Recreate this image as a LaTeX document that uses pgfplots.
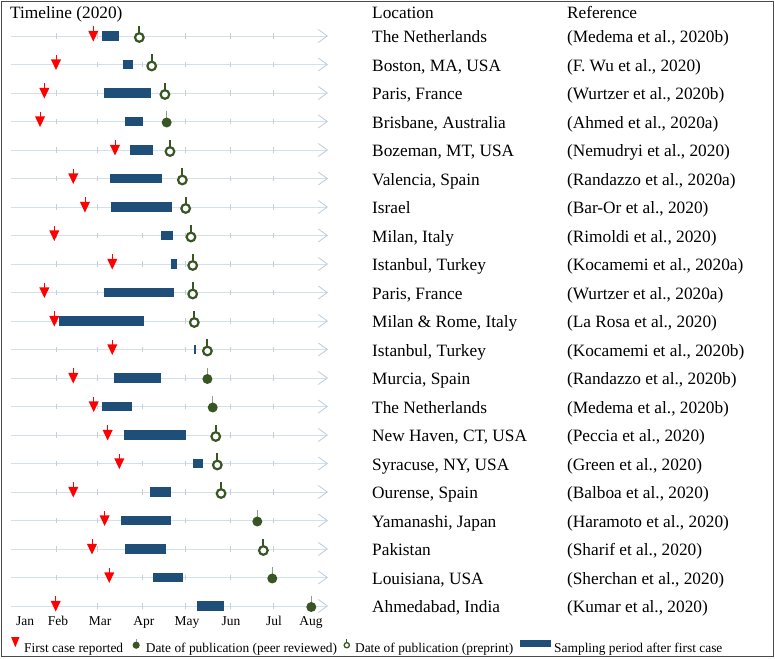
\documentclass[border=0pt]{standalone}
\usepackage{pgfplots}
\pgfplotsset{compat=1.18}
\usepackage{pgfplotstable}
\usepackage{fontspec}
\setmainfont{Liberation Serif}
\usetikzlibrary{arrows.meta}

\definecolor{barblue}{HTML}{1F4E79}
\definecolor{pubgreen}{HTML}{375623}
\definecolor{stemgreen}{HTML}{8E9C86}
\definecolor{linecol}{HTML}{D2E0EC}
\definecolor{arrowcol}{HTML}{B9CCDD}
\definecolor{tickcol}{HTML}{C3CFDA}
\definecolor{bordercol}{HTML}{4A4A4A}

% first case: down-pointing triangle with a short stem
\pgfdeclareplotmark{firstcase}{%
  \pgfsetlinewidth{0.8pt}%
  \pgfpathmoveto{\pgfpoint{0pt}{4pt}}%
  \pgfpathlineto{\pgfpoint{0pt}{9.5pt}}%
  \pgfusepathqstroke
  \pgfpathmoveto{\pgfpoint{-5pt}{5pt}}%
  \pgfpathlineto{\pgfpoint{5pt}{5pt}}%
  \pgfpathlineto{\pgfpoint{0pt}{-5.5pt}}%
  \pgfpathclose
  \pgfusepathqfill
}
% publication, preprint: open ring with stem
\pgfdeclareplotmark{pubopen}{%
  \pgfsetlinewidth{1.8pt}%
  \pgfpathmoveto{\pgfpoint{0pt}{2pt}}%
  \pgfpathlineto{\pgfpoint{0pt}{10pt}}%
  \pgfusepathqstroke
  \pgfsetlinewidth{2.2pt}%
  \pgfpathcircle{\pgfpoint{0pt}{-1.5pt}}{4.3pt}%
  \pgfusepathqfillstroke
}
% publication, peer reviewed: filled dot with thin stem
\pgfdeclareplotmark{pubfill}{%
  \pgfsetlinewidth{0.9pt}%
  \pgfpathmoveto{\pgfpoint{0pt}{3pt}}%
  \pgfpathlineto{\pgfpoint{0pt}{10pt}}%
  \pgfusepathqstroke
  \pgfpathcircle{\pgfpoint{0pt}{-1pt}}{5pt}%
  \pgfusepathqfill
}

% day of year 2020 (Jan 1 = 0)
\pgfplotstableread{
row first bs    be    popen pfill
1   56.9  63.2  75.0  88.9  nan
2   31.0  77.3  84.3  97.5  nan
3   22.9  64.1  97.2  106.7 nan
4   19.9  79.2  91.2  nan   107.9
5   72.0  82.2  98.4  110.2 nan
6   43.0  68.3  104.4 118.8 nan
7   51.1  69.2  111.4 121.1 nan
8   29.8  104.2 112.3 124.8 nan
9   70.1  111.1 115.1 126.0 nan
10  22.9  64.1  113.2 126.0 nan
11  29.8  33.1  92.1  127.1 nan
12  70.1  127.1 128.3 136.2 nan
13  43.0  71.1  104.2 nan   136.2
14  57.2  62.9  84.0  nan   139.9
15  66.9  78.2  121.1 142.0 nan
16  75.0  126.4 133.1 143.1 nan
17  43.0  96.3  111.1 145.7 nan
18  64.8  76.2  111.1 nan   170.9
19  56.0  79.2  107.2 175.1 nan
20  68.0  98.2  119.2 nan   181.3
21  30.8  129.0 148.0 nan   208.4
}\data

\begin{document}
\begin{tikzpicture}[font=\fontsize{17.3}{20}\selectfont]
\begin{axis}[
  scale only axis, width=775pt, height=658pt,
  xmin=-7.92, xmax=530.65, ymin=-0.263, ymax=22.825, y dir=reverse,
  enlargelimits=false, hide axis, clip=false,
  legend columns=4,
  legend style={draw=none, fill=none, inner sep=0pt, column sep=0pt,
    at={(axis cs:-0.28,22.07)}, anchor=north west,
    font=\fontsize{13.4}{16}\selectfont,
    nodes={inner sep=0pt, text depth=0pt},
    cells={anchor=base west}},
]
\path (rel axis cs:0,0) rectangle (rel axis cs:1,1);
\draw[bordercol, line width=1.3pt] (axis cs:-6.88,-0.211) rectangle (axis cs:529.6,22.772);

% timelines with open arrow heads
\addplot[forget plot, linecol, line width=0.9pt, quiver={u=220, v=0},
  -{Straight Barb[length=9pt, width=13pt, line width=0.8pt, color=arrowcol]}]
  table[x expr=0, y=row] {\data};
% month ticks on each timeline (drawn as short vertical error bars, under the bars)
\pgfplotsinvokeforeach{1,...,21}{
  \addplot[forget plot, draw=none, mark=none,
    error bars/.cd, y dir=both, y fixed=0.105, error mark=none,
    error bar style={draw=tickcol, line width=0.8pt, solid}]
    coordinates {(31,#1) (60,#1) (91,#1) (121,#1) (152,#1) (182,#1)};
}
% sampling periods: one segment from start to end
\addplot[forget plot, draw=none, mark=none,
  error bars/.cd, x dir=plus, x explicit, error mark=none,
  error bar style={line width=9.5pt, draw=barblue, solid}]
  table[x=bs, y=row, x error expr={\thisrow{be}-\thisrow{bs}}] {\data};
% first case
\addplot[forget plot, only marks, mark=firstcase, mark options={draw=red, fill=red}]
  table[x=first, y=row] {\data};
% publications
\addplot[forget plot, only marks, mark=pubopen, mark options={draw=pubgreen, fill=white}]
  table[x=popen, y=row] {\data};
\addplot[forget plot, only marks, mark=pubfill, mark options={draw=stemgreen, fill=pubgreen}]
  table[x=pfill, y=row] {\data};

% legend
\addlegendimage{legend image code/.code={%
  \path[draw=none, fill=none] (0pt,-4pt) rectangle (13pt,16pt);
  \fill[red, draw=none] (0pt,15.5pt) -- (8.3pt,15.5pt) -- (4.15pt,5.5pt) -- cycle;}}
\addlegendentry{First case reported}
\addlegendimage{legend image code/.code={%
  \path[draw=none, fill=none] (0pt,-4pt) rectangle (22.7pt,16pt);
  \draw[stemgreen, line width=0.7pt, fill=none] (13pt,10pt) -- (13pt,13.5pt);
  \fill[pubgreen, draw=none] (13pt,7.5pt) circle (3.6pt);}}
\addlegendentry{Date of publication (peer reviewed)}
\addlegendimage{legend image code/.code={%
  \path[draw=none, fill=none] (0pt,-4pt) rectangle (18pt,16pt);
  \draw[pubgreen, line width=1.2pt, fill=none] (9.7pt,10pt) -- (9.7pt,14pt);
  \draw[pubgreen, line width=1.3pt, fill=white] (9.7pt,7.5pt) circle (2.6pt);}}
\addlegendentry{Date of publication (preprint)}
\addlegendimage{legend image code/.code={%
  \path[draw=none, fill=none] (0pt,-4pt) rectangle (41pt,16pt);
  \fill[barblue, draw=none] (7pt,5.5pt) rectangle (38pt,13pt);}}
\addlegendentry{Sampling period after first case}

% headers
\node[anchor=base west, inner sep=0pt] at (axis cs:-0.97,0.386) {Timeline (2020)};
\node[anchor=base west, inner sep=0pt] at (axis cs:250.6,0.386) {Location};
\node[anchor=base west, inner sep=0pt] at (axis cs:386.0,0.386) {Reference};

% month labels
\begin{scope}[every node/.style={anchor=base, inner sep=0pt, font=\fontsize{13.5}{16}\selectfont}]
\node at (axis cs:9.5,21.667) {Jan};
\node at (axis cs:32.4,21.667) {Feb};
\node at (axis cs:61.6,21.667) {Mar};
\node at (axis cs:92.1,21.667) {Apr};
\node at (axis cs:122.0,21.667) {May};
\node at (axis cs:152.6,21.667) {Jun};
\node at (axis cs:182.5,21.667) {Jul};
\node at (axis cs:208.2,21.667) {Aug};
\end{scope}

% locations and references
\begin{scope}[every node/.style={anchor=base west, inner sep=0pt}]
\node at (axis cs:250.6,1.23) {The Netherlands};
\node at (axis cs:386.0,1.23) {(Medema et al., 2020b)};
\node at (axis cs:250.6,2.23) {Boston, MA, USA};
\node at (axis cs:386.0,2.23) {(F. Wu et al., 2020)};
\node at (axis cs:250.6,3.23) {Paris, France};
\node at (axis cs:386.0,3.23) {(Wurtzer et al., 2020b)};
\node at (axis cs:250.6,4.23) {Brisbane, Australia};
\node at (axis cs:386.0,4.23) {(Ahmed et al., 2020a)};
\node at (axis cs:250.6,5.23) {Bozeman, MT, USA};
\node at (axis cs:386.0,5.23) {(Nemudryi et al., 2020)};
\node at (axis cs:250.6,6.23) {Valencia, Spain};
\node at (axis cs:386.0,6.23) {(Randazzo et al., 2020a)};
\node at (axis cs:250.6,7.23) {Israel};
\node at (axis cs:386.0,7.23) {(Bar-Or et al., 2020)};
\node at (axis cs:250.6,8.23) {Milan, Italy};
\node at (axis cs:386.0,8.23) {(Rimoldi et al., 2020)};
\node at (axis cs:250.6,9.23) {Istanbul, Turkey};
\node at (axis cs:386.0,9.23) {(Kocamemi et al., 2020a)};
\node at (axis cs:250.6,10.23) {Paris, France};
\node at (axis cs:386.0,10.23) {(Wurtzer et al., 2020a)};
\node at (axis cs:250.6,11.23) {Milan \& Rome, Italy};
\node at (axis cs:386.0,11.23) {(La Rosa et al., 2020)};
\node at (axis cs:250.6,12.23) {Istanbul, Turkey};
\node at (axis cs:386.0,12.23) {(Kocamemi et al., 2020b)};
\node at (axis cs:250.6,13.23) {Murcia, Spain};
\node at (axis cs:386.0,13.23) {(Randazzo et al., 2020b)};
\node at (axis cs:250.6,14.23) {The Netherlands};
\node at (axis cs:386.0,14.23) {(Medema et al., 2020b)};
\node at (axis cs:250.6,15.23) {New Haven, CT, USA};
\node at (axis cs:386.0,15.23) {(Peccia et al., 2020)};
\node at (axis cs:250.6,16.23) {Syracuse, NY, USA};
\node at (axis cs:386.0,16.23) {(Green et al., 2020)};
\node at (axis cs:250.6,17.23) {Ourense, Spain};
\node at (axis cs:386.0,17.23) {(Balboa et al., 2020)};
\node at (axis cs:250.6,18.23) {Yamanashi, Japan};
\node at (axis cs:386.0,18.23) {(Haramoto et al., 2020)};
\node at (axis cs:250.6,19.23) {Pakistan};
\node at (axis cs:386.0,19.23) {(Sharif et al., 2020)};
\node at (axis cs:250.6,20.23) {Louisiana, USA};
\node at (axis cs:386.0,20.23) {(Sherchan et al., 2020)};
\node at (axis cs:250.6,21.23) {Ahmedabad, India};
\node at (axis cs:386.0,21.23) {(Kumar et al., 2020)};
\end{scope}
\end{axis}
\end{tikzpicture}
\end{document}
